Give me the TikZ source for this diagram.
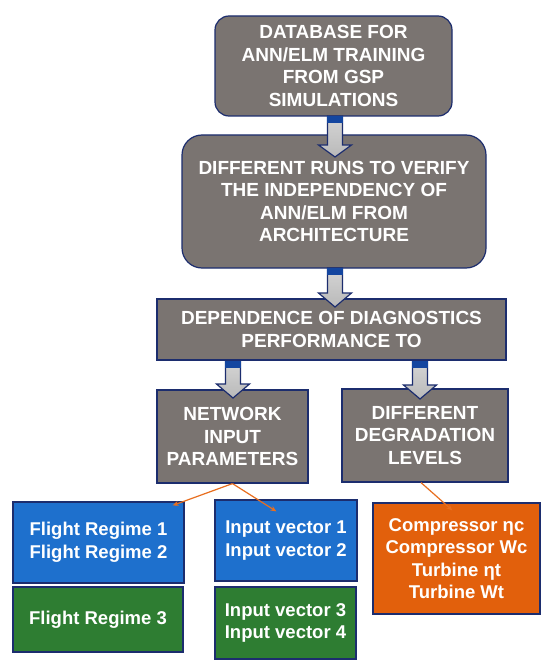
\documentclass[tikz,border=0pt]{standalone}
\usepackage{fontspec}
\setmainfont{Liberation Sans}
\usetikzlibrary{arrows.meta,calc}
\definecolor{boxgray}{RGB}{122,116,113}
\definecolor{navy}{RGB}{28,45,110}
\definecolor{bandblue}{RGB}{20,70,160}
\definecolor{boxblue}{RGB}{30,112,205}
\definecolor{boxgreen}{RGB}{46,125,50}
\definecolor{boxorange}{RGB}{226,96,12}
\definecolor{linkorange}{RGB}{232,110,30}
\definecolor{arrowgray}{RGB}{185,185,185}
\newcommand\bigarrow[4]{%
  \shadedraw[top color=arrowgray!60!white, bottom color=arrowgray, draw=navy, line width=1.2pt, line join=miter]
    (#1-7.5,#2) -- (#1-7.5,#3) -- (#1-16.5,#3) -- (#1,#4) -- (#1+16.5,#3) -- (#1+7.5,#3) -- (#1+7.5,#2) -- cycle;
  \fill[bandblue] (#1-8.1,#2) rectangle (#1+8.1,#2+7);}
\begin{document}
\begin{tikzpicture}[x=1pt,y=-1pt,
  box/.style={draw=navy, line width=1.2pt, text=white, align=center, inner sep=0pt,
    font=\bfseries\fontsize{19}{22.5}\selectfont},
  graybox/.style={box, fill=boxgray},
  smallbox/.style={box, font=\bfseries\fontsize{18.5}{22.5}\selectfont},
  link/.style={draw=linkorange, line width=1.2pt, -{Stealth[length=6pt,width=5pt]}}]
\useasboundingbox (0,0) rectangle (550,671);
\fill[white] (0,0) rectangle (550,671);

\node[graybox, rounded corners=14pt, minimum width=237pt, minimum height=100pt] (db) at (333.5,66)
  {DATABASE FOR\\ANN/ELM TRAINING\\FROM GSP\\SIMULATIONS};
\node[graybox, rounded corners=20pt, minimum width=304pt, minimum height=133pt] (runs) at (334,201.5)
  {DIFFERENT RUNS TO VERIFY\\THE INDEPENDENCY OF\\ANN/ELM FROM\\ARCHITECTURE};
\node[graybox, minimum width=349pt, minimum height=61pt] (dep) at (331.5,329.5)
  {DEPENDENCE OF DIAGNOSTICS\\PERFORMANCE TO};
\node[graybox, minimum width=151pt, minimum height=93pt] (net) at (232.5,436.5)
  {NETWORK\\INPUT\\PARAMETERS};
\node[graybox, minimum width=166pt, minimum height=93pt] (deg) at (425,435.5)
  {DIFFERENT\\DEGRADATION\\LEVELS};

\node[smallbox, fill=boxblue, minimum width=171pt, minimum height=81pt] (fr12) at (98.5,542.5)
  {Flight Regime 1\\Flight Regime 2};
\node[smallbox, fill=boxgreen, minimum width=170pt, minimum height=65pt] (fr3) at (98,619.5)
  {Flight Regime 3};
\node[smallbox, fill=boxblue, minimum width=142pt, minimum height=81pt] (iv12) at (286,540.5)
  {Input vector 1\\Input vector 2};
\node[smallbox, fill=boxgreen, minimum width=141pt, minimum height=72pt] (iv34) at (285.5,623)
  {Input vector 3\\Input vector 4};
\node[smallbox, fill=boxorange, minimum width=167pt, minimum height=111pt] (comp) at (456.5,558.5)
  {Compressor ηc\\Compressor Wc\\Turbine ηt\\Turbine Wt};

\bigarrow{335}{116}{145}{157}
\bigarrow{335}{268}{293}{307}
\bigarrow{233}{361}{384}{398}
\bigarrow{420}{361}{385}{399}

\coordinate (e1) at ($(fr12.north east)+(-12,4)$);
\coordinate (e2) at ($(iv12.north west)+(62,12)$);
\coordinate (e3) at ($(comp.north west)+(80,8)$);
\coordinate (s3) at ($(deg.south)+(-4,0)$);
\draw[link] (net.south) -- (e1);
\draw[link] (net.south) -- (e2);
\draw[link] (s3) -- (e3);
\end{tikzpicture}
\end{document}
